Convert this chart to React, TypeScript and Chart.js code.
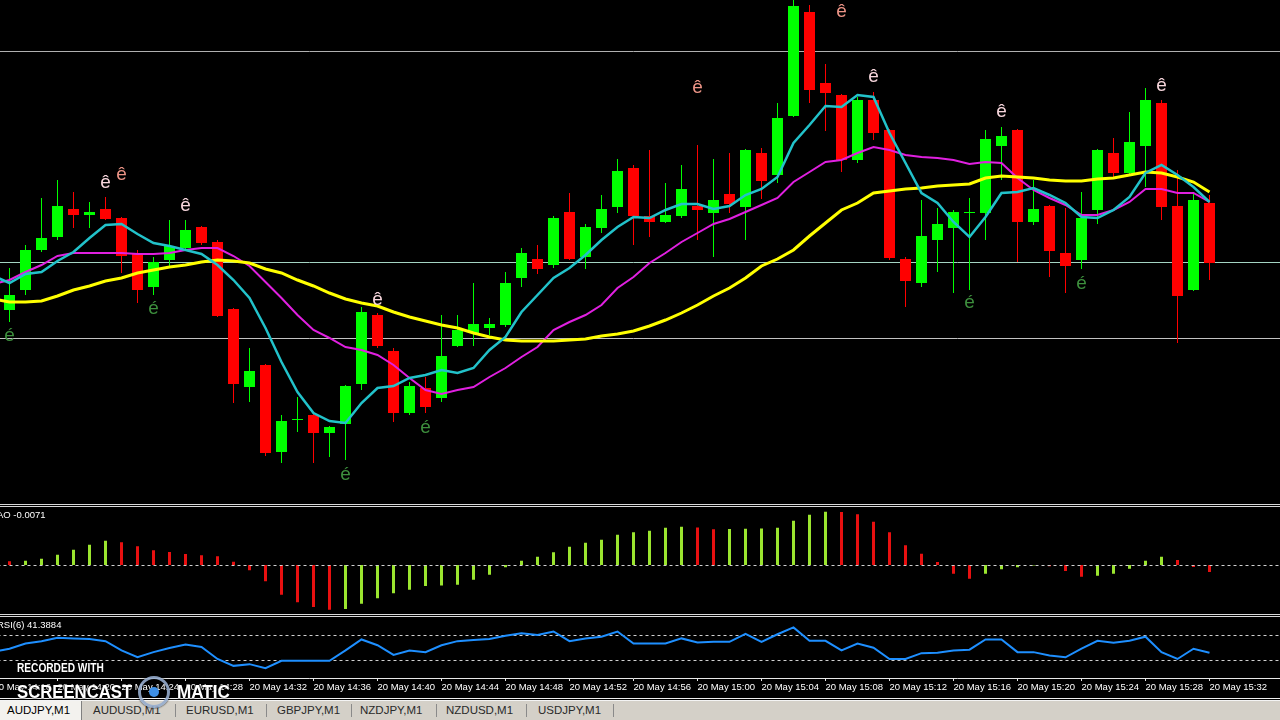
import React, { useEffect, useRef } from "react";
import { Chart, registerables } from "chart.js";

Chart.register(...registerables);

// ---------- categories (1-minute bars, AUDJPY M1) ----------
const categories = [
  "14:16", "14:17", "14:18", "14:19", "14:20", "14:21", "14:22", "14:23", "14:24", "14:25",
  "14:26", "14:27", "14:28", "14:29", "14:30", "14:31", "14:32", "14:33", "14:34", "14:35",
  "14:36", "14:37", "14:38", "14:39", "14:40", "14:41", "14:42", "14:43", "14:44", "14:45",
  "14:46", "14:47", "14:48", "14:49", "14:50", "14:51", "14:52", "14:53", "14:54", "14:55",
  "14:56", "14:57", "14:58", "14:59", "15:00", "15:01", "15:02", "15:03", "15:04", "15:05",
  "15:06", "15:07", "15:08", "15:09", "15:10", "15:11", "15:12", "15:13", "15:14", "15:15",
  "15:16", "15:17", "15:18", "15:19", "15:20", "15:21", "15:22", "15:23", "15:24", "15:25",
  "15:26", "15:27", "15:28", "15:29", "15:30", "15:31", "15:32", "15:33", "15:34", "15:35",
  "15:36",
];

const axisTickLabels = [
  "20 May 14:16", "20 May 14:20", "20 May 14:24", "20 May 14:28", "20 May 14:32",
  "20 May 14:36", "20 May 14:40", "20 May 14:44", "20 May 14:48", "20 May 14:52",
  "20 May 14:56", "20 May 15:00", "20 May 15:04", "20 May 15:08", "20 May 15:12",
  "20 May 15:16", "20 May 15:20", "20 May 15:24", "20 May 15:28", "20 May 15:32",
];

// ---------- candles 14:17 .. 15:32 ----------
const opens = [
  95.190, 95.210, 95.250, 95.263, 95.291, 95.285, 95.291, 95.282, 95.247, 95.213,
  95.240, 95.252, 95.273, 95.258, 95.191, 95.113, 95.135, 95.048, 95.080, 95.085,
  95.067, 95.076, 95.116, 95.185, 95.149, 95.087, 95.112, 95.102, 95.154, 95.167,
  95.172, 95.175, 95.222, 95.241, 95.235, 95.288, 95.243, 95.272, 95.293, 95.332,
  95.284, 95.278, 95.284, 95.294, 95.287, 95.306, 95.293, 95.347, 95.325, 95.384,
  95.488, 95.417, 95.405, 95.340, 95.400, 95.370, 95.241, 95.217, 95.260, 95.272,
  95.287, 95.287, 95.354, 95.370, 95.278, 95.294, 95.247, 95.240, 95.290, 95.347,
  95.327, 95.354, 95.397, 95.294, 95.210, 95.297,
];
const highs = [
  95.232, 95.255, 95.302, 95.320, 95.308, 95.298, 95.303, 95.283, 95.250, 95.243,
  95.280, 95.280, 95.274, 95.260, 95.192, 95.152, 95.136, 95.085, 95.103, 95.086,
  95.074, 95.115, 95.193, 95.187, 95.152, 95.118, 95.123, 95.185, 95.185, 95.217,
  95.182, 95.228, 95.252, 95.255, 95.284, 95.307, 95.276, 95.305, 95.341, 95.335,
  95.350, 95.317, 95.335, 95.355, 95.341, 95.347, 95.351, 95.352, 95.397, 95.500,
  95.495, 95.436, 95.406, 95.403, 95.408, 95.371, 95.243, 95.300, 95.292, 95.290,
  95.302, 95.370, 95.373, 95.371, 95.320, 95.295, 95.292, 95.308, 95.351, 95.362,
  95.388, 95.412, 95.400, 95.330, 95.307, 95.305,
];
const lows = [
  95.178, 95.205, 95.248, 95.260, 95.272, 95.272, 95.280, 95.227, 95.197, 95.205,
  95.232, 95.250, 95.255, 95.183, 95.097, 95.098, 95.044, 95.037, 95.068, 95.037,
  95.043, 95.040, 95.110, 95.152, 95.078, 95.085, 95.087, 95.098, 95.153, 95.154,
  95.165, 95.173, 95.213, 95.226, 95.232, 95.240, 95.231, 95.267, 95.287, 95.255,
  95.263, 95.277, 95.282, 95.260, 95.243, 95.287, 95.260, 95.301, 95.317, 95.383,
  95.397, 95.369, 95.328, 95.337, 95.360, 95.240, 95.193, 95.213, 95.228, 95.207,
  95.210, 95.260, 95.320, 95.238, 95.275, 95.223, 95.207, 95.231, 95.276, 95.323,
  95.325, 95.313, 95.280, 95.157, 95.209, 95.220,
];
const closes = [
  95.205, 95.250, 95.262, 95.294, 95.285, 95.288, 95.281, 95.244, 95.210, 95.238,
  95.254, 95.270, 95.257, 95.184, 95.116, 95.129, 95.047, 95.079, 95.081, 95.067,
  95.073, 95.114, 95.188, 95.154, 95.087, 95.114, 95.093, 95.144, 95.170, 95.176,
  95.176, 95.217, 95.247, 95.231, 95.282, 95.241, 95.273, 95.291, 95.329, 95.284,
  95.278, 95.285, 95.311, 95.290, 95.300, 95.296, 95.350, 95.319, 95.382, 95.494,
  95.410, 95.407, 95.340, 95.400, 95.367, 95.242, 95.219, 95.264, 95.276, 95.288,
  95.288, 95.361, 95.364, 95.278, 95.291, 95.249, 95.234, 95.282, 95.350, 95.327,
  95.358, 95.400, 95.293, 95.204, 95.300, 95.237,
];

// ---------- moving averages 14:16 .. 15:32 ----------
const maFast = [
  95.224, 95.217, 95.226, 95.228, 95.239, 95.248, 95.262, 95.275, 95.276, 95.266, 95.257,
  95.254, 95.250, 95.246, 95.235, 95.220, 95.202, 95.172, 95.138, 95.108, 95.087,
  95.079, 95.077, 95.097, 95.112, 95.114, 95.122, 95.125, 95.130, 95.127, 95.132,
  95.150, 95.163, 95.188, 95.205, 95.222, 95.232, 95.245, 95.260, 95.273, 95.283,
  95.282, 95.290, 95.296, 95.296, 95.291, 95.294, 95.305, 95.311, 95.323, 95.357,
  95.375, 95.394, 95.393, 95.405, 95.403, 95.367, 95.337, 95.307, 95.297, 95.278,
  95.263, 95.283, 95.307, 95.308, 95.312, 95.305, 95.297, 95.283, 95.282, 95.290,
  95.303, 95.327, 95.335, 95.325, 95.313, 95.298,
];
const maMid = [
  95.216, 95.220, 95.228, 95.235, 95.244, 95.247, 95.247, 95.247, 95.247, 95.246, 95.246,
  95.247, 95.250, 95.252, 95.252, 95.244, 95.234, 95.218, 95.202, 95.185, 95.170,
  95.162, 95.153, 95.150, 95.145, 95.135, 95.122, 95.110, 95.106, 95.110, 95.113,
  95.123, 95.132, 95.143, 95.153, 95.170, 95.178, 95.185, 95.195, 95.212, 95.223,
  95.237, 95.247, 95.258, 95.267, 95.276, 95.281, 95.288, 95.295, 95.302, 95.318,
  95.328, 95.338, 95.340, 95.347, 95.353, 95.350, 95.345, 95.343, 95.342, 95.340,
  95.336, 95.338, 95.337, 95.322, 95.310, 95.302, 95.295, 95.285, 95.285, 95.290,
  95.298, 95.311, 95.311, 95.307, 95.307, 95.298,
];
const maSlow = [
  95.201, 95.198, 95.198, 95.199, 95.204, 95.210, 95.214, 95.219, 95.222, 95.227, 95.230,
  95.233, 95.235, 95.238, 95.240, 95.239, 95.237, 95.231, 95.227, 95.220, 95.214,
  95.207, 95.201, 95.197, 95.194, 95.188, 95.183, 95.179, 95.175, 95.172, 95.167,
  95.163, 95.160, 95.159, 95.159, 95.159, 95.160, 95.161, 95.164, 95.166, 95.169,
  95.174, 95.180, 95.187, 95.195, 95.204, 95.212, 95.222, 95.234, 95.241, 95.250,
  95.264, 95.277, 95.290, 95.297, 95.307, 95.309, 95.311, 95.312, 95.314, 95.315,
  95.316, 95.322, 95.324, 95.323, 95.322, 95.320, 95.319, 95.319, 95.321, 95.322,
  95.325, 95.328, 95.327, 95.323, 95.318, 95.308,
];

// ---------- horizontal price lines ----------
const hLineLevels = [95.449, 95.238, 95.162];

// ---------- arrow marks ----------
const sellMarkTimes = ["14:23", "14:28", "14:40", "15:11", "15:19", "15:29"];
const sellMarkPrices = [95.317, 95.294, 95.200, 95.423, 95.388, 95.414];
const sellMark2Times = ["14:24", "15:00", "15:09"];
const sellMark2Prices = [95.325, 95.412, 95.488];
const buyMarkTimes = ["14:17", "14:26", "14:38", "14:43", "15:17", "15:24"];
const buyMarkPrices = [95.164, 95.191, 95.025, 95.072, 95.197, 95.216];

// ---------- Awesome Oscillator 14:16 .. 15:32 ----------
const aoValues = [
  0.0045, 0.0038, 0.0043, 0.0063, 0.0103, 0.0153, 0.0203, 0.0243, 0.0227, 0.0187, 0.0147,
  0.0130, 0.0110, 0.0097, 0.0087, 0.0033, -0.0053, -0.0163, -0.0297, -0.0373, -0.0420,
  -0.0447, -0.0440, -0.0387, -0.0333, -0.0283, -0.0247, -0.0210, -0.0206, -0.0197, -0.0147,
  -0.0097, -0.0023, 0.0043, 0.0083, 0.0127, 0.0183, 0.0223, 0.0253, 0.0303, 0.0327,
  0.0343, 0.0373, 0.0383, 0.0375, 0.0358, 0.0360, 0.0362, 0.0364, 0.0373, 0.0443,
  0.0503, 0.0533, 0.0530, 0.0507, 0.0433, 0.0327, 0.0197, 0.0113, 0.0030, -0.0087,
  -0.0137, -0.0087, -0.0043, -0.0023, -0.0004, -0.0013, -0.0060, -0.0117, -0.0107, -0.0087,
  -0.0037, 0.0043, 0.0083, 0.0050, -0.0020, -0.0071,
];

// ---------- RSI(6) 14:16 .. 15:32 ----------
const rsiValues = [
  43.0, 48.0, 56.5, 60.4, 66.1, 64.9, 63.8, 60.4, 45.2, 34.0, 42.4,
  49.2, 54.8, 50.9, 31.2, 19.9, 22.7, 16.0, 28.3, 28.3, 28.3,
  28.3, 45.2, 63.2, 53.7, 37.9, 45.2, 42.4, 53.7, 60.4, 62.1,
  63.8, 69.4, 73.4, 70.6, 76.2, 60.4, 64.9, 67.7, 76.2, 56.5,
  56.5, 56.5, 64.9, 58.2, 59.3, 59.3, 72.3, 59.3, 71.7, 82.9,
  61.0, 61.0, 45.2, 56.5, 49.7, 31.2, 31.2, 40.7, 41.3, 45.2,
  46.4, 63.2, 63.2, 42.4, 42.4, 36.8, 34.0, 48.0, 61.0, 57.6,
  61.0, 67.7, 42.4, 31.2, 48.0, 41.4,
];
const rsiLevels = [70, 30];
const aoLevels = [0];

// ---------- styling ----------
const UP = "#00ff00";
const DOWN = "#ff0000";
const AO_UP = "#9be52f";
const AO_DOWN = "#e81010";
const FONT = '"Liberation Sans", Arial, sans-serif';
const N = categories.length;

function pad(arr: any[], lead: number): any[] {
  const out: any[] = new Array(lead).fill(null).concat(arr);
  while (out.length < N) out.push(null);
  return out;
}

const levelPlugin = {
  id: "levels",
  beforeDatasetsDraw(chart: any, _a: any, opts: any) {
    if (!opts.front) drawLevels(chart, opts);
  },
  afterDatasetsDraw(chart: any, _a: any, opts: any) {
    if (opts.front) drawLevels(chart, opts);
  },
};
function drawLevels(chart: any, opts: any) {
  const { ctx, chartArea, scales } = chart;
  const items = opts.items || [];
  ctx.save();
  for (const it of items) {
    const y = Math.round(scales.y.getPixelForValue(it.value)) + 0.5;
    ctx.strokeStyle = it.color;
    ctx.lineWidth = 1;
    ctx.setLineDash(it.dash ? [it.dash, it.dash] : []);
    ctx.beginPath();
    ctx.moveTo(chartArea.left, y);
    ctx.lineTo(chartArea.right, y);
    ctx.stroke();
  }
  ctx.restore();
}

const markerPlugin = {
  id: "markers",
  afterDatasetsDraw(chart: any, _a: any, opts: any) {
    const { ctx, scales } = chart;
    const groups = opts.groups || [];
    ctx.save();
    ctx.textAlign = "center";
    ctx.textBaseline = "middle";
    for (const g of groups) {
      ctx.font = `${g.size}px ${FONT}`;
      ctx.fillStyle = g.color;
      g.times.forEach((t: string, j: number) => {
        const x = scales.x.getPixelForValue(categories.indexOf(t));
        const y = scales.y.getPixelForValue(g.prices[j]);
        ctx.fillText(g.text, x, y);
      });
    }
    ctx.restore();
  },
};

const baseOptions = {
  responsive: false,
  animation: false as const,
  events: [] as any[],
  layout: { padding: { left: 0.5, right: 0.5, top: 0, bottom: 0 } },
};

export default function App() {
  const mainRef = useRef<HTMLCanvasElement>(null);
  const aoRef = useRef<HTMLCanvasElement>(null);
  const rsiRef = useRef<HTMLCanvasElement>(null);

  useEffect(() => {
    const candleColors = pad(opens.map((o, i) => (closes[i] >= o ? UP : DOWN)), 1);
    const bodies = pad(opens.map((o, i) => [o, closes[i]]), 1);
    const wicks = pad(lows.map((l, i) => [l, highs[i]]), 1);

    const main = new Chart(mainRef.current!, {
      type: "bar",
      data: {
        labels: categories,
        datasets: [
          { type: "bar", data: wicks, backgroundColor: candleColors, barThickness: 1, grouped: false, borderWidth: 0, inflateAmount: 0, order: 10 } as any,
          { type: "bar", data: bodies, backgroundColor: candleColors, barThickness: 11, minBarLength: 1, grouped: false, borderWidth: 0, inflateAmount: 0, order: 9 } as any,
          { type: "line", data: pad(maMid, 0), borderColor: "#e020e0", borderWidth: 2, pointRadius: 0, tension: 0, order: 3 } as any,
          { type: "line", data: pad(maSlow, 0), borderColor: "#ffff00", borderWidth: 3, pointRadius: 0, tension: 0, order: 2 } as any,
          { type: "line", data: pad(maFast, 0), borderColor: "#22c2ca", borderWidth: 2.5, pointRadius: 0, tension: 0, order: 1 } as any,
        ],
      },
      options: {
        ...baseOptions,
        plugins: {
          legend: { display: false },
          tooltip: { enabled: false },
          levels: {
            front: false,
            items: [
              { value: hLineLevels[0], color: "#b0b0b0" },
              { value: hLineLevels[1], color: "#a4d4c2" },
              { value: hLineLevels[2], color: "#c2c2c2" },
            ],
          },
          markers: {
            groups: [
              { text: "ê", color: "#f7d6dc", size: 19, times: sellMarkTimes, prices: sellMarkPrices },
              { text: "ê", color: "#ec9486", size: 19, times: sellMark2Times, prices: sellMark2Prices },
              { text: "é", color: "#3d8f3d", size: 19, times: buyMarkTimes, prices: buyMarkPrices },
            ],
          },
        } as any,
        scales: {
          x: { type: "category", display: false, offset: true },
          y: { display: false, min: 94.996, max: 95.5 },
        },
      },
      plugins: [levelPlugin, markerPlugin],
    });

    const aoColors = pad(aoValues.map((v, k) => (k > 0 && v > aoValues[k - 1] ? AO_UP : AO_DOWN)), 0);
    const ao = new Chart(aoRef.current!, {
      type: "bar",
      data: {
        labels: categories,
        datasets: [
          { data: pad(aoValues, 0), backgroundColor: aoColors, barThickness: 3, borderWidth: 0, inflateAmount: 0 } as any,
        ],
      },
      options: {
        ...baseOptions,
        plugins: {
          legend: { display: false },
          tooltip: { enabled: false },
          levels: { front: true, items: aoLevels.map((v) => ({ value: v, color: "#d0d0d0", dash: 3 })) },
        } as any,
        scales: {
          x: { type: "category", display: false, offset: true },
          y: { display: false, min: -0.049, max: 0.058 },
        },
      },
      plugins: [levelPlugin],
    });

    const isAxisLabel = (idx: number) => axisTickLabels.includes("20 May " + categories[idx]);
    const rsi = new Chart(rsiRef.current!, {
      type: "line",
      data: {
        labels: categories,
        datasets: [
          { data: pad(rsiValues, 0), borderColor: "#1e8fff", borderWidth: 2, pointRadius: 0, tension: 0 } as any,
        ],
      },
      options: {
        ...baseOptions,
        plugins: {
          legend: { display: false },
          tooltip: { enabled: false },
          levels: { front: false, items: rsiLevels.map((v) => ({ value: v, color: "#d0d0d0", dash: 3 })) },
        } as any,
        scales: {
          x: {
            type: "category",
            offset: true,
            afterFit: (scale: any) => {
              scale.height = 20;
            },
            grid: {
              display: true,
              drawOnChartArea: false,
              drawTicks: true,
              tickLength: 3,
              offset: false,
              color: (c: any) => (isAxisLabel(c.index) ? "#e8e8e8" : "rgba(0,0,0,0)"),
            },
            border: { display: true, color: "#e8e8e8", width: 1 },
            ticks: {
              autoSkip: false,
              maxRotation: 0,
              minRotation: 0,
              align: "start",
              padding: 1,
              color: "#ffffff",
              font: { family: FONT, size: 9.5 },
              callback: (_v: any, idx: number) => (isAxisLabel(idx) ? "20 May " + categories[idx] : ""),
            },
          } as any,
          y: { display: false, min: 0, max: 100 },
        },
      },
      plugins: [levelPlugin],
    });

    return () => {
      main.destroy();
      ao.destroy();
      rsi.destroy();
    };
  }, []);

  const line = (top: number, color = "#d8d8d8") => (
    <div style={{ position: "absolute", left: 0, top, width: 1280, height: 1, background: color }} />
  );
  const canvasStyle = (top: number): React.CSSProperties => ({ position: "absolute", left: -15, top, display: "block" });

  const tabs = [
    { text: "AUDJPY,M1", x: 7 },
    { text: "AUDUSD,M1", x: 93 },
    { text: "EURUSD,M1", x: 186 },
    { text: "GBPJPY,M1", x: 277 },
    { text: "NZDJPY,M1", x: 360 },
    { text: "NZDUSD,M1", x: 446 },
    { text: "USDJPY,M1", x: 538 },
  ];
  const tabSeps = [175, 266, 351, 436, 526, 613];

  const wm: React.CSSProperties = {
    position: "absolute",
    color: "#ffffff",
    fontWeight: 700,
    fontFamily: FONT,
    whiteSpace: "nowrap",
    transformOrigin: "left top",
    textShadow: "0 0 2px #000, 0 0 1px #000",
  };

  return (
    <div
      style={{
        position: "fixed",
        left: 0,
        top: 0,
        width: 1280,
        height: 720,
        background: "#000",
        overflow: "hidden",
        fontFamily: FONT,
      }}
    >
      <canvas ref={mainRef} width={1297} height={504} style={canvasStyle(0)} />
      {line(504)}
      {line(506)}
      <canvas ref={aoRef} width={1297} height={107} style={canvasStyle(507)} />
      <div style={{ position: "absolute", left: -3, top: 509, color: "#ffffff", fontSize: 9.5, lineHeight: "12px", whiteSpace: "nowrap" }}>
        AO -0.0071
      </div>
      {line(614)}
      {line(616)}
      <canvas ref={rsiRef} width={1297} height={81} style={canvasStyle(617)} />
      <div style={{ position: "absolute", left: -3, top: 619, color: "#ffffff", fontSize: 9.5, lineHeight: "12px", whiteSpace: "nowrap" }}>
        RSI(6) 41.3884
      </div>
      {line(698, "#f0f0f0")}

      {/* tab bar */}
      <div style={{ position: "absolute", left: 0, top: 700, width: 1280, height: 20, background: "#d4d0c8", borderTop: "1px solid #f4f4f4", boxSizing: "border-box" }}>
        <div style={{ position: "absolute", left: 0, top: 0, width: 82, height: 19, background: "#f3f2ee", borderRight: "1px solid #808080", boxSizing: "border-box" }} />
        {tabSeps.map((x) => (
          <div key={x} style={{ position: "absolute", left: x, top: 3, width: 1, height: 13, background: "#8a8a8a" }} />
        ))}
        {tabs.map((t, i) => (
          <div key={t.text} style={{ position: "absolute", left: t.x, top: 0, lineHeight: "19px", fontSize: 11.5, color: i === 0 ? "#000" : "#2a2a2a", whiteSpace: "nowrap" }}>
            {t.text}
          </div>
        ))}
      </div>

      {/* recording watermark */}
      <div style={{ ...wm, left: 17, top: 661, fontSize: 13, lineHeight: "13px", transform: "scaleX(0.78)" }}>RECORDED WITH</div>
      <div style={{ ...wm, left: 17, top: 682, fontSize: 19, lineHeight: "19px", transform: "scaleX(0.88)" }}>SCREENCAST</div>
      <div style={{ position: "absolute", left: 138, top: 676, width: 32, height: 32, borderRadius: "50%", border: "3px solid rgba(150,172,205,0.9)", boxSizing: "border-box", boxShadow: "0 0 2px #000" }} />
      <div style={{ position: "absolute", left: 149, top: 687, width: 10, height: 10, borderRadius: "50%", background: "#3d8fe6" }} />
      <div style={{ ...wm, left: 177, top: 682, fontSize: 19, lineHeight: "19px", transform: "scaleX(0.9)" }}>MATIC</div>
    </div>
  );
}
